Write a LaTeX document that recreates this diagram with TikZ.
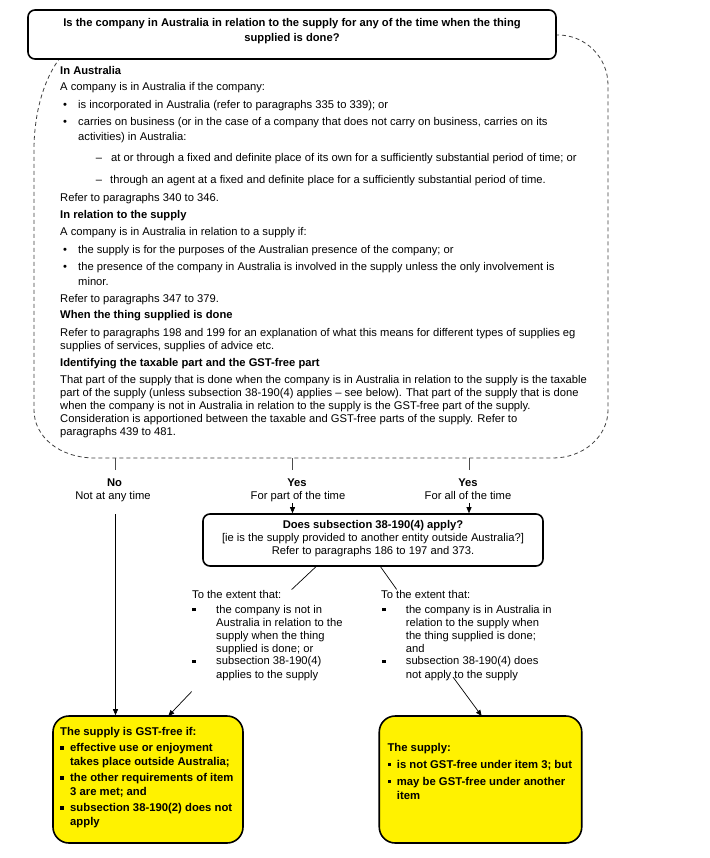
\documentclass[tikz,border=0pt]{standalone}
\usepackage{fontspec}
\setmainfont{Liberation Sans}
\usetikzlibrary{arrows.meta}
\newcommand\sqbul{\raisebox{2pt}{\rule{3.2pt}{3.2pt}}}
\begin{document}
\begin{tikzpicture}[x=1pt,y=-1pt,
  txt/.style={anchor=base west, inner sep=0pt, align=left, font=\fontsize{11.2}{13.2}\selectfont},
  btxt/.style={txt, font=\fontsize{11.2}{13.2}\selectfont\bfseries},
  ctxt/.style={anchor=base, inner sep=0pt, align=center, font=\fontsize{11.2}{13.2}\selectfont},
  cbtxt/.style={ctxt, font=\fontsize{11.2}{13.2}\selectfont\bfseries},
  ytxt/.style={anchor=base west, inner sep=0pt, align=left, font=\fontsize{11.3}{13.6}\selectfont\bfseries},
  bul/.style={anchor=base, inner sep=0pt, font=\fontsize{11.2}{13.2}\selectfont},
  qbox/.style={draw=black, line width=1.6pt, rounded corners=7pt, fill=white, inner sep=0pt},
  ybox/.style={draw=black, line width=1.6pt, rounded corners=16pt, fill=yellow, inner sep=0pt},
  conn/.style={line width=0.7pt, draw=black},
  arr/.style={conn, -{Triangle[length=6pt,width=5pt]}},
  tick/.style={line width=0.7pt, draw=black!70},
  outline/.style={line width=0.8pt, draw=black!75, dash pattern=on 4pt off 3pt}
]
\useasboundingbox[fill=white] (0,0) rectangle (709,858);

% dashed outline
\draw[outline] (100,35) -- (558,35) .. controls (585.6,35) and (608,57.4) .. (608,85)
  -- (608,410) .. controls (608,436.5) and (583.4,458) .. (553,458)
  -- (95,458) .. controls (59.1,458) and (34,436.5) .. (34,410)
  -- (34,150) .. controls (34,86.5) and (62.5,35) .. (100,35) -- cycle;

% top question box
\node[qbox, minimum width=528pt, minimum height=49pt] (q1) at (292,34.5) {};
\node[cbtxt, font=\fontsize{11.2}{15.5}\selectfont\bfseries] (q1t) at (292,42) {Is the company in Australia in relation to the supply for any of the time when the thing\\supplied is done?};

% explanatory text (multi-line nodes are placed by the baseline of their last line)
\node[btxt] (h1) at (60,74.5) {In Australia};
\node[txt] (p1) at (60,90.5) {A company is in Australia if the company:};
\node[bul] (b1) at (65,108.5) {•};
\node[txt] (p2) at (78,108.5) {is incorporated in Australia (refer to paragraphs 335 to 339); or};
\node[bul] (b2) at (65,126) {•};
\node[txt, font=\fontsize{11.2}{14.5}\selectfont] (p3) at (78,140.5) {carries on business (or in the case of a company that does not carry on business, carries on its\\activities) in Australia:};
\node[bul] (d1) at (99,161.5) {–};
\node[txt] (p4) at (111,161.5) {at or through a fixed and definite place of its own for a sufficiently substantial period of time; or};
\node[bul] (d2) at (99,183.5) {–};
\node[txt] (p5) at (110,183.5) {through an agent at a fixed and definite place for a sufficiently substantial period of time.};
\node[txt] (p6) at (60,201.5) {Refer to paragraphs 340 to 346.};
\node[btxt] (h2) at (60,219) {In relation to the supply};
\node[txt] (p7) at (60,235.5) {A company is in Australia in relation to a supply if:};
\node[bul] (b3) at (65,253.5) {•};
\node[txt] (p8) at (78,253.5) {the supply is for the purposes of the Australian presence of the company; or};
\node[bul] (b4) at (65,271) {•};
\node[txt, font=\fontsize{11.2}{14}\selectfont] (p9) at (78,285) {the presence of the company in Australia is involved in the supply unless the only involvement is\\minor.};
\node[txt] (p10) at (60,302.5) {Refer to paragraphs 347 to 379.};
\node[btxt] (h3) at (60,318.5) {When the thing supplied is done};
\node[txt] (p11) at (60,349.7) {Refer to paragraphs 198 and 199 for an explanation of what this means for different types of supplies eg\\supplies of services, supplies of advice etc.};
\node[btxt] (h4) at (60,366) {Identifying the taxable part and the GST-free part};
\node[txt, font=\fontsize{11.2}{12.9}\selectfont] (p12) at (60,435.1) {That part of the supply that is done when the company is in Australia in relation to the supply is the taxable\\part of the supply (unless subsection 38-190(4) applies – see below). That part of the supply that is done\\when the company is not in Australia in relation to the supply is the GST-free part of the supply.\\Consideration is apportioned between the taxable and GST-free parts of the supply. Refer to\\paragraphs 439 to 481.};

% branch ticks and labels
\coordinate (t1a) at (115.5,458); \coordinate (t1b) at (115.5,470);
\coordinate (t2a) at (292.5,458); \coordinate (t2b) at (292.5,470);
\coordinate (t3a) at (469,458);   \coordinate (t3b) at (469,470);
\draw[tick] (t1a) -- (t1b);
\draw[tick] (t2a) -- (t2b);
\draw[tick] (t3a) -- (t3b);
\node[cbtxt] (l1) at (114.5,486) {No};
\node[ctxt] (l1s) at (113,499) {Not at any time};
\node[cbtxt] (l2) at (297,486) {Yes};
\node[ctxt] (l2s) at (298,499) {For part of the time};
\node[cbtxt] (l3) at (468,486) {Yes};
\node[ctxt] (l3s) at (468,499) {For all of the time};

% second question box
\node[qbox, minimum width=340pt, minimum height=52pt] (q2) at (373,540) {};
\node[ctxt, font=\fontsize{11.2}{13}\selectfont] (q2t) at (373,554) {\textbf{Does subsection 38-190(4) apply?}\\{}[ie is the supply provided to another entity outside Australia?]\\Refer to paragraphs 186 to 197 and 373.};

\coordinate (a2) at (292.5,503);
\coordinate (a3) at (469,503);
\draw[arr] (a2) -- (a2 |- q2.north);
\draw[arr] (a3) -- (a3 |- q2.north);

% extent texts
\coordinate (c1a) at (316.7,566); \coordinate (c1b) at (291.7,589.5);
\coordinate (c2a) at (380,566);   \coordinate (c2b) at (396.7,589.5);
\draw[conn] (c1a) -- (c1b);
\draw[conn] (c2a) -- (c2b);

\node[txt] (e1) at (192,598.7) {To the extent that:};
\node[bul] (e1b1) at (194,613) {\sqbul};
\node[txt, font=\fontsize{11.2}{13}\selectfont] (e1i1) at (216,652) {the company is not in\\Australia in relation to the\\supply when the thing\\supplied is done; or};
\node[bul] (e1b2) at (194,664.7) {\sqbul};
\node[txt, font=\fontsize{11.2}{14}\selectfont] (e1i2) at (216,678.7) {subsection 38-190(4)\\applies to the supply};

\node[txt] (e2) at (381,598.7) {To the extent that:};
\node[bul] (e2b1) at (384,613) {\sqbul};
\node[txt, font=\fontsize{11.2}{13}\selectfont] (e2i1) at (405.7,652) {the company is in Australia in\\relation to the supply when\\the thing supplied is done;\\and};
\node[bul] (e2b2) at (384,664.7) {\sqbul};
\node[txt, font=\fontsize{11.2}{14}\selectfont] (e2i2) at (405.7,678.7) {subsection 38-190(4) does\\not apply to the supply};

% outcome boxes
\node[ybox, minimum width=190pt, minimum height=127pt] (y1) at (148,779.5) {};
\node[ybox, minimum width=202.5pt, minimum height=127pt] (y2) at (480.5,779.5) {};

\coordinate (n1) at (115.5,514);
\draw[arr] (n1) -- (n1 |- y1.north);
\coordinate (g1) at (191.7,691.5); \coordinate (g1e) at (168.3,716);
\draw[arr] (g1) -- (g1e);
\coordinate (g2) at (453,677); \coordinate (g2e) at (481.7,716);
\draw[arr] (g2) -- (g2e);

\node[ytxt] (y1h) at (60,735) {The supply is GST-free if:};
\node[bul] (y1b1) at (62,751.5) {\sqbul};
\node[ytxt] (y1i1) at (70,765.1) {effective use or enjoyment\\takes place outside Australia;};
\node[bul] (y1b2) at (62,781.5) {\sqbul};
\node[ytxt] (y1i2) at (70,795.1) {the other requirements of item\\3 are met; and};
\node[bul] (y1b3) at (62,811.5) {\sqbul};
\node[ytxt, font=\fontsize{11.3}{14}\selectfont\bfseries] (y1i3) at (70,825.5) {subsection 38-190(2) does not\\apply};

\node[ytxt] (y2h) at (387.3,751.5) {The supply:};
\node[bul] (y2b1) at (389.5,768) {\sqbul};
\node[ytxt] (y2i1) at (396.7,768) {is not GST-free under item 3; but};
\node[bul] (y2b2) at (389.5,785) {\sqbul};
\node[ytxt, font=\fontsize{11.3}{14}\selectfont\bfseries] (y2i2) at (396.7,799) {may be GST-free under another\\item};
\end{tikzpicture}
\end{document}
